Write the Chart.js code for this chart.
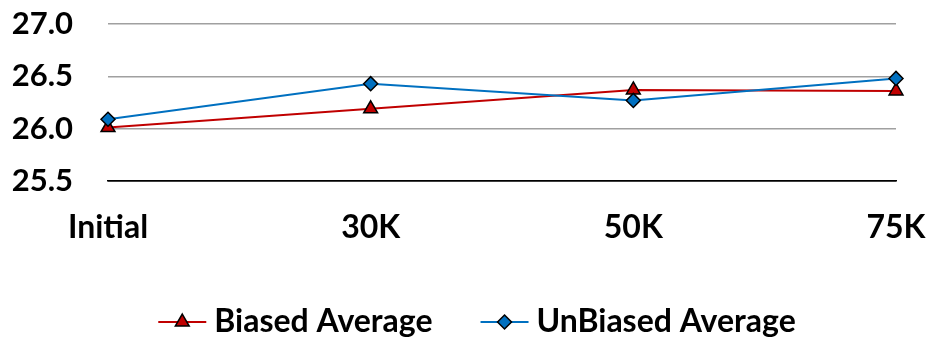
<!DOCTYPE html>
<html lang="en">
<head>
  <meta charset="UTF-8" />
  <title>Biased vs UnBiased Average</title>
  <script src="https://cdn.jsdelivr.net/npm/chart.js"></script>
  <style>
    body {
      margin: 0;
      background: #fff;
    }
  </style>
</head>
<body>
  <canvas id="avgChart" width="927" height="341"></canvas>

  <script>
    // values
    const categories = ['Initial', '30K', '50K', '75K'];
    const biased = [26.01, 26.19, 26.37, 26.36];
    const unbiased = [26.09, 26.43, 26.27, 26.48];
    const yTicks = [25.5, 26.0, 26.5, 27.0];

    const FONT = 'Lato, "Open Sans", sans-serif';
    const RED = '#C00000';
    const BLUE = '#0070C0';

    function drawMarker(ctx, style, r, x, y) {
      if (style === 'triangle') {
        ctx.moveTo(x, y - r);
        ctx.lineTo(x + r * 0.866, y + r * 0.5);
        ctx.lineTo(x - r * 0.866, y + r * 0.5);
      } else {
        ctx.moveTo(x, y - r);
        ctx.lineTo(x + r, y);
        ctx.lineTo(x, y + r);
        ctx.lineTo(x - r, y);
      }
      ctx.closePath();
    }

    // legend drawn by hand so each entry is a line with its marker on it
    const lineLegend = {
      id: 'lineLegend',
      afterDraw(chart) {
        const ctx = chart.ctx;
        const y = 322;
        const lineLen = 48, gap = 8, itemGap = 48;
        ctx.save();
        ctx.font = 'bold 32px ' + FONT;
        const items = chart.data.datasets.map(ds => ({ ds, w: ctx.measureText(ds.label).width }));
        const total = items.reduce((s, it) => s + lineLen + gap + it.w, 0) + itemGap * (items.length - 1);
        let x = 477 - total / 2;
        items.forEach(({ ds, w }) => {
          ctx.strokeStyle = ds.borderColor;
          ctx.lineWidth = ds.borderWidth;
          ctx.beginPath();
          ctx.moveTo(x, y);
          ctx.lineTo(x + lineLen, y);
          ctx.stroke();
          ctx.fillStyle = ds.pointBackgroundColor;
          ctx.strokeStyle = ds.pointBorderColor;
          ctx.lineWidth = ds.pointBorderWidth;
          ctx.beginPath();
          drawMarker(ctx, ds.pointStyle, ds.pointRadius, x + lineLen / 2, y);
          ctx.fill();
          ctx.stroke();
          ctx.fillStyle = '#000';
          ctx.textBaseline = 'middle';
          ctx.textAlign = 'left';
          ctx.fillText(ds.label, x + lineLen + gap, y);
          x += lineLen + gap + w + itemGap;
        });
        ctx.restore();
      }
    };

    const ctx = document.getElementById('avgChart').getContext('2d');
    new Chart(ctx, {
      type: 'line',
      data: {
        labels: categories,
        datasets: [{
          label: 'Biased Average',
          data: biased,
          borderColor: RED,
          borderWidth: 2,
          pointStyle: 'triangle',
          pointRadius: 8,
          pointBackgroundColor: RED,
          pointBorderColor: '#000',
          pointBorderWidth: 1.5,
          tension: 0,
          order: 1
        }, {
          label: 'UnBiased Average',
          data: unbiased,
          borderColor: BLUE,
          borderWidth: 2,
          pointStyle: 'rectRot',
          pointRadius: 7,
          pointBackgroundColor: BLUE,
          pointBorderColor: '#000',
          pointBorderWidth: 1.5,
          tension: 0,
          order: 0
        }]
      },
      options: {
        responsive: false,
        animation: false,
        devicePixelRatio: 1,
        layout: { padding: { left: 0, right: 31, top: 24, bottom: 100 } },
        plugins: {
          legend: { display: false },
          tooltip: { enabled: false }
        },
        scales: {
          x: {
            offset: false,
            grid: { display: false, drawTicks: false },
            border: { display: true, color: '#000', width: 1.5 },
            ticks: {
              color: '#000',
              padding: 27,
              maxRotation: 0,
              font: { family: FONT, size: 32, weight: 'bold' }
            },
            afterFit: s => {
              s.height = 60;
              s.paddingLeft = 0;
              s.paddingRight = 0;
            }
          },
          y: {
            min: 25.5,
            max: 27.0,
            afterBuildTicks: s => { s.ticks = yTicks.map(v => ({ value: v })); },
            grid: {
              drawTicks: false,
              lineWidth: 1.5,
              color: c => (c.tick && c.tick.value === 25.5) ? '#000' : '#a0a0a0'
            },
            border: { display: false },
            ticks: {
              color: '#000',
              padding: 35,
              font: { family: FONT, size: 31, weight: 'bold' },
              callback: v => Number(v).toFixed(1)
            },
            afterFit: s => {
              s.width = 108;
              s.paddingTop = 0;
              s.paddingBottom = 0;
            }
          }
        }
      },
      plugins: [lineLegend]
    });
  </script>
</body>
</html>
